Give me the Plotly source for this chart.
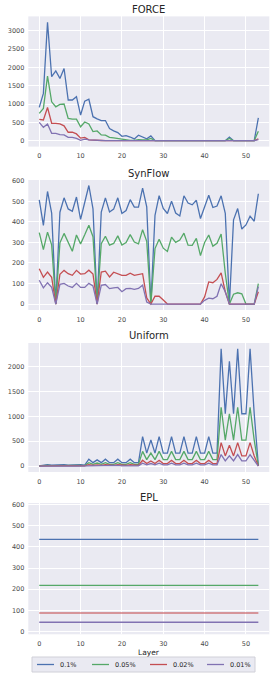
import plotly.graph_objects as go

W, H = 274, 676

LAYERS = list(range(54))
SERIES_NAMES = ["0.1%", "0.05%", "0.02%", "0.01%"]
COLORS = ["#4c72b0", "#55a868", "#c44e52", "#8172b2"]

# FORCE
FORCE_01 = [910, 1290, 3230, 1745, 1905, 1700, 1970, 1110, 1110, 1200, 700, 1080, 1130, 655, 595, 550, 550, 330,
            270, 220, 120, 140, 100, 50, 150, 100, 50, 130, 0, 0, 0, 0, 0, 0, 0, 0, 0, 0, 0, 0, 0, 0, 0, 0,
            0, 0, 100, 0, 0, 0, 0, 0, 0, 620]
FORCE_005 = [745, 880, 1760, 1060, 925, 990, 1000, 610, 590, 590, 380, 510, 455, 250, 265, 157, 150, 90,
             75, 55, 30, 20, 10, 10, 30, 20, 20, 60, 0, 0, 0, 0, 0, 0, 0, 0, 0, 0, 0, 0, 0, 0, 0, 0,
             0, 0, 60, 0, 0, 0, 0, 0, 0, 260]
FORCE_002 = [580, 565, 905, 475, 475, 457, 405, 230, 230, 185, 70, 90, 25, 25, 20, 5, 0, 0,
             0, 0, 0, 0, 0, 0, 0, 0, 0, 10, 0, 0, 0, 0, 0, 0, 0, 0, 0, 0, 0, 0, 0, 0, 0, 0,
             0, 0, 20, 0, 0, 0, 0, 0, 0, 50]
FORCE_001 = [500, 365, 455, 200, 200, 168, 158, 92, 92, 65, 12, 40, 20, 10, 10, 0, 0, 0,
             0, 0, 0, 0, 0, 0, 0, 0, 0, 0, 0, 0, 0, 0, 0, 0, 0, 0, 0, 0, 0, 0, 0, 0, 0, 0,
             0, 0, 10, 0, 0, 0, 0, 0, 0, 30]

# SynFlow
SYN_01 = [507, 383, 548, 443, 0, 447, 517, 463, 452, 521, 412, 490, 577, 463, 0, 448, 517, 448,
          462, 517, 441, 455, 508, 472, 472, 564, 473, 0, 432, 528, 465, 441, 501, 443, 429, 527,
          492, 483, 505, 416, 472, 530, 470, 477, 527, 442, 0, 410, 465, 365, 385, 428, 403, 537]
SYN_005 = [348, 265, 350, 288, 0, 298, 344, 300, 257, 336, 293, 337, 384, 328, 0, 294, 330, 287,
           295, 332, 287, 300, 338, 302, 293, 362, 305, 0, 270, 315, 272, 256, 326, 300, 312, 345,
           287, 286, 320, 236, 300, 336, 282, 296, 341, 150, 0, 48, 55, 50, 0, 0, 0, 100]
SYN_002 = [172, 130, 156, 130, 0, 145, 164, 148, 140, 164, 146, 148, 165, 146, 0, 156, 160, 132,
           155, 146, 140, 140, 150, 140, 143, 148, 30, 0, 38, 38, 20, 0, 0, 0, 0, 0,
           0, 0, 0, 0, 35, 108, 104, 120, 152, 60, 0, 0, 0, 0, 0, 0, 0, 60]
SYN_001 = [116, 79, 104, 82, 0, 96, 101, 88, 81, 101, 81, 81, 101, 88, 0, 91, 95, 75,
           79, 81, 60, 75, 76, 72, 76, 92, 10, 0, 0, 0, 0, 0, 0, 0, 0, 0,
           0, 0, 0, 0, 18, 29, 26, 38, 99, 60, 0, 0, 0, 0, 0, 0, 0, 85]

# Uniform
UNI_01 = [5, 22, 30, 20, 25, 20, 28, 20, 25, 20, 28, 22,
          140, 70, 125, 70, 140, 70, 70, 140, 70, 70, 140, 70, 70,
          590, 260, 525, 260, 590, 260, 260, 590, 260, 260, 590, 260, 260, 590, 260, 260, 590, 260, 260,
          2350, 1050, 2100, 1050, 2350, 1050, 1050, 2350, 1050, 10]
UNI_005 = [3, 11, 15, 10, 12, 10, 14, 10, 12, 10, 14, 11,
           70, 35, 62, 35, 70, 35, 35, 70, 35, 35, 70, 35, 35,
           295, 130, 262, 130, 295, 130, 130, 295, 130, 130, 295, 130, 130, 295, 130, 130, 295, 130, 130,
           1180, 520, 1050, 520, 1180, 520, 520, 1180, 520, 5]
UNI_002 = [1, 4, 6, 4, 5, 4, 6, 4, 5, 4, 6, 4,
           28, 14, 25, 14, 28, 14, 14, 28, 14, 14, 28, 14, 14,
           118, 52, 105, 52, 118, 52, 52, 118, 52, 52, 118, 52, 52, 118, 52, 52, 118, 52, 52,
           470, 205, 420, 205, 470, 205, 205, 470, 205, 2]
UNI_001 = [0, 2, 3, 2, 2, 2, 3, 2, 2, 2, 3, 2,
           14, 7, 12, 7, 14, 7, 7, 14, 7, 7, 14, 7, 7,
           59, 26, 52, 26, 59, 26, 26, 59, 26, 26, 59, 26, 26, 59, 26, 26, 59, 26, 26,
           232, 105, 208, 105, 232, 105, 105, 232, 105, 1]

# EPL
EPL_01 = [435, 435, 435, 435, 435, 435, 435, 435, 435, 435, 435, 435, 435, 435, 435, 435, 435, 435,
          435, 435, 435, 435, 435, 435, 435, 435, 435, 435, 435, 435, 435, 435, 435, 435, 435, 435,
          435, 435, 435, 435, 435, 435, 435, 435, 435, 435, 435, 435, 435, 435, 435, 435, 435, 435]
EPL_005 = [218, 218, 218, 218, 218, 218, 218, 218, 218, 218, 218, 218, 218, 218, 218, 218, 218, 218,
           218, 218, 218, 218, 218, 218, 218, 218, 218, 218, 218, 218, 218, 218, 218, 218, 218, 218,
           218, 218, 218, 218, 218, 218, 218, 218, 218, 218, 218, 218, 218, 218, 218, 218, 218, 218]
EPL_002 = [88, 88, 88, 88, 88, 88, 88, 88, 88, 88, 88, 88, 88, 88, 88, 88, 88, 88,
           88, 88, 88, 88, 88, 88, 88, 88, 88, 88, 88, 88, 88, 88, 88, 88, 88, 88,
           88, 88, 88, 88, 88, 88, 88, 88, 88, 88, 88, 88, 88, 88, 88, 88, 88, 88]
EPL_001 = [44, 44, 44, 44, 44, 44, 44, 44, 44, 44, 44, 44, 44, 44, 44, 44, 44, 44,
           44, 44, 44, 44, 44, 44, 44, 44, 44, 44, 44, 44, 44, 44, 44, 44, 44, 44,
           44, 44, 44, 44, 44, 44, 44, 44, 44, 44, 44, 44, 44, 44, 44, 44, 44, 44]

PANELS = [
    ("FORCE", [FORCE_01, FORCE_005, FORCE_002, FORCE_001], [-161, 3391], [0, 500, 1000, 1500, 2000, 2500, 3000], (16.4, 146.6), 10),
    ("SynFlow", [SYN_01, SYN_005, SYN_002, SYN_001], [-28.8, 603.8], [0, 100, 200, 300, 400, 500, 600], (180.0, 310.0), 173),
    ("Uniform", [UNI_01, UNI_005, UNI_002, UNI_001], [-117.5, 2467.5], [0, 500, 1000, 1500, 2000], (343.0, 472.0), 335),
    ("EPL", [EPL_01, EPL_005, EPL_002, EPL_001], [-13, 607], [0, 100, 200, 300, 400, 500, 600], (503.0, 634.3), 497),
]

FONT = "DejaVu Sans"
TXT = "#262626"
TICK = "#4a4a4a"
XL, XR = 28.3, 269.3

fig = go.Figure()
layout = dict(
    width=W, height=H, margin=dict(l=0, r=0, t=0, b=0),
    paper_bgcolor="white", plot_bgcolor="#eaeaf2",
    font=dict(family=FONT, size=6.5, color=TXT),
    showlegend=False,
    annotations=[], shapes=[],
)

for i, (title, series, yr, yt, (top, bot), ty) in enumerate(PANELS):
    n = "" if i == 0 else str(i + 1)
    for j, (vals, name, col) in enumerate(zip(series, SERIES_NAMES, COLORS)):
        lc = col
        lw = 1.3
        if title == "EPL" and j == 2:
            lc = "rgba(196,78,82,0.55)"
            lw = 2
        fig.add_trace(go.Scatter(
            x=LAYERS, y=vals, mode="lines", name=name,
            line=dict(color=lc, width=lw),
            xaxis="x" + n, yaxis="y" + n,
        ))
    layout["xaxis" + n] = dict(
        domain=[XL / W, XR / W], anchor="y" + n, range=[-2.65, 55.65], automargin=False,
        tickvals=[0, 10, 20, 30, 40, 50], showgrid=True, gridcolor="white", gridwidth=1,
        zeroline=False, showline=False, ticks="", ticklabelstandoff=4,
        tickfont=dict(size=6.5, color=TICK),
    )
    layout["yaxis" + n] = dict(
        domain=[1 - bot / H, 1 - top / H], anchor="x" + n, range=yr, automargin=False,
        tickvals=yt, showgrid=True, gridcolor="white", gridwidth=1,
        zeroline=False, showline=False, ticks="", ticklabelstandoff=3,
        tickfont=dict(size=6.5, color=TICK),
    )
    layout["annotations"].append(dict(
        text=title, x=(XL + XR) / 2 / W, y=1 - ty / H, xref="paper", yref="paper",
        xanchor="center", yanchor="middle", showarrow=False, font=dict(size=10, color=TXT),
    ))

layout["annotations"].append(dict(
    text="Layer", x=(XL + XR) / 2 / W, y=1 - 652 / H, xref="paper", yref="paper",
    xanchor="center", yanchor="middle", showarrow=False, font=dict(size=7.5, color=TXT),
))

# Legend box below the last panel (drawn in paper coordinates)
LEG_Y = 664.5
LEG_BOX = (32, 657, 255, 672)
LEG_LINE_X = [37, 92, 150, 207]
LEG_LINE_LEN = 17
layout["shapes"].append(dict(
    type="rect", xref="paper", yref="paper",
    x0=LEG_BOX[0] / W, x1=LEG_BOX[2] / W, y0=1 - LEG_BOX[3] / H, y1=1 - LEG_BOX[1] / H,
    fillcolor="#eaeaf2", line=dict(color="#d0d0d8", width=1), layer="below",
))
for name, col, lx in zip(SERIES_NAMES, COLORS, LEG_LINE_X):
    layout["shapes"].append(dict(
        type="line", xref="paper", yref="paper",
        x0=lx / W, x1=(lx + LEG_LINE_LEN) / W, y0=1 - LEG_Y / H, y1=1 - LEG_Y / H,
        line=dict(color=col, width=1.3),
    ))
    layout["annotations"].append(dict(
        text=name, x=(lx + LEG_LINE_LEN + 4) / W, y=1 - LEG_Y / H, xref="paper", yref="paper",
        xanchor="left", yanchor="middle", showarrow=False, font=dict(size=6.5, color=TXT),
    ))

fig.update_layout(**layout)
fig.write_html(
    "out.html",
    config={"displayModeBar": False},
    post_script="document.body.style.margin='0';document.body.style.padding='0';document.body.style.overflow='hidden';",
)
